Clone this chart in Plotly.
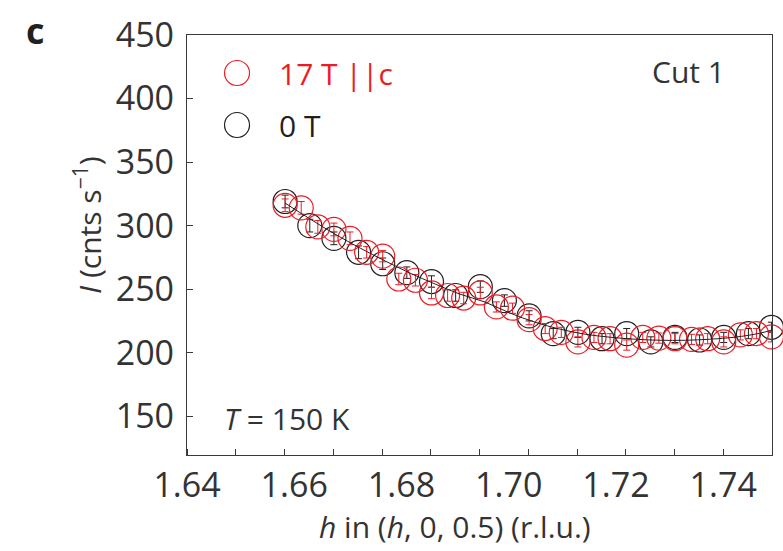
import plotly.graph_objects as go

# ---- data ----
h_0T = [1.6583, 1.6629, 1.6674, 1.6720, 1.6765, 1.6810, 1.6856, 1.6901, 1.6947, 1.6992,
        1.7038, 1.7083, 1.7129, 1.7174, 1.7220, 1.7265, 1.7310, 1.7356, 1.7401, 1.7447, 1.7490]
I_0T = [319, 300, 290, 279, 270, 263, 256, 245, 252, 241,
        229, 215, 216, 211, 215, 208.5, 212, 210, 212, 215, 220]
err_0T = [5, 5, 5, 5, 4.5, 4.5, 4.5, 4.5, 4.5, 4.5,
          4, 4, 4, 4, 4, 4, 4, 4, 4, 4, 4]

h_17T = [1.6583, 1.6613, 1.6644, 1.6674, 1.6704, 1.6735, 1.6765, 1.6795, 1.6826, 1.6856,
         1.6886, 1.6916, 1.6947, 1.6977, 1.7007, 1.7038, 1.7068, 1.7098, 1.7129, 1.7159,
         1.7189, 1.7220, 1.7250, 1.7280, 1.7310, 1.7341, 1.7371, 1.7401, 1.7432, 1.7462, 1.7490]
I_17T = [316, 314, 299, 297, 290, 279, 276, 258, 257, 247,
         245, 243, 247, 236, 235, 226, 219, 216, 208.5, 212,
         211, 206, 212, 211.5, 211, 210.5, 211, 208.5, 214, 215, 212.5]
err_17T = [5, 5, 5, 5, 5, 4.5, 4.5, 4.5, 4.5, 4.5,
           4.5, 4.5, 4.5, 4, 4, 4, 4, 4, 4, 4,
           4, 4, 4, 4, 4, 4, 4, 4, 4, 4, 4]

h_fit = [1.6583, 1.6630, 1.6676, 1.6723, 1.6770, 1.6816, 1.6863, 1.6909, 1.6956, 1.7003,
         1.7049, 1.7096, 1.7142, 1.7189, 1.7236, 1.7282, 1.7329, 1.7375, 1.7422, 1.7468, 1.7490]
I_fit = [317.7, 305.1, 293.3, 282.3, 272.1, 262.6, 254.0, 246.1, 239.8, 231.1,
         224.0, 218.5, 214.6, 212.2, 210.6, 209.8, 209.8, 210.6, 212.2, 215.3, 217.7]

x_ticks = [1.64, 1.66, 1.68, 1.70, 1.72, 1.74]
x_ticktext = ["1.64", "1.66", "1.68", "1.70", "1.72", "1.74"]
y_ticks = [150, 200, 250, 300, 350, 400, 450]

RED = "#ed1c24"
BLACK = "#231f20"
TXT = "#333333"
FONT = "Open Sans"

fig = go.Figure()

fig.add_trace(go.Scatter(
    x=h_0T, y=I_0T, mode="markers", name="0 T",
    marker=dict(symbol="circle-open", size=24, color=BLACK, line=dict(width=1.2)),
    error_y=dict(type="data", array=err_0T, color=BLACK, thickness=1, width=3.5),
    cliponaxis=False, showlegend=False))

fig.add_trace(go.Scatter(
    x=h_17T, y=I_17T, mode="markers", name="17 T ||c",
    marker=dict(symbol="circle-open", size=24, color=RED, line=dict(width=1.2)),
    error_y=dict(type="data", array=err_17T, color=RED, thickness=1, width=3.5),
    cliponaxis=False, showlegend=False))

fig.add_trace(go.Scatter(
    x=h_fit, y=I_fit, mode="lines", line=dict(color=BLACK, width=1, shape="spline"),
    cliponaxis=False, showlegend=False, hoverinfo="skip"))

axis_common = dict(showgrid=False, zeroline=False, showline=True, linecolor="#3a3a3a",
                   linewidth=1.3, mirror=True, automargin=False,
                   tickfont=dict(family=FONT, size=34, color=TXT))

fig.update_layout(
    width=783, height=551,
    margin=dict(l=187, r=11, t=35, b=96, autoexpand=False),
    paper_bgcolor="white", plot_bgcolor="white",
    xaxis=dict(range=[1.64, 1.7491], tickvals=x_ticks, ticktext=x_ticktext, ticks="",
               minor=dict(ticks="inside", tick0=1.64, dtick=0.009093, ticklen=6,
                          tickcolor="#3a3a3a", tickwidth=1, showgrid=False),
               **axis_common),
    yaxis=dict(range=[119.5, 450], tickvals=y_ticks, ticks="inside", ticklen=6,
               tickcolor="#3a3a3a", tickwidth=1, ticklabelstandoff=5,
               **axis_common),
    showlegend=False,
)

# axis titles
fig.add_annotation(x=0.458, y=-0.171, xref="paper", yref="paper", xanchor="center", yanchor="middle",
                   text="<i>h</i> in (<i>h</i>, 0, 0.5) (r.l.u.)", showarrow=False,
                   font=dict(family=FONT, size=30, color=TXT))
fig.add_annotation(x=-0.169, y=0.548, xref="paper", yref="paper", xanchor="center", yanchor="middle",
                   text="<i>I</i> (cnts s<sup>−1</sup>)", textangle=-90, showarrow=False,
                   font=dict(family=FONT, size=30, color=TXT))

# legend drawn as shapes + text
leg = [(0.9095, RED, "17 T ||c"), (0.7857, BLACK, "0 T")]
for yy, col, txt in leg:
    fig.add_shape(type="circle", xref="paper", yref="paper", xsizemode="pixel", ysizemode="pixel",
                  xanchor=0.0855, yanchor=yy, x0=-12.5, x1=12.5, y0=-12.5, y1=12.5,
                  line=dict(color=col, width=1.2))
    fig.add_annotation(x=0.1538, y=yy, xref="paper", yref="paper", xanchor="left", yanchor="middle",
                       text=txt, showarrow=False, font=dict(family=FONT, size=30, color=col))

fig.add_annotation(x=0.9231, y=0.912, xref="paper", yref="paper", xanchor="right", yanchor="middle",
                   text="Cut 1", showarrow=False, font=dict(family=FONT, size=30, color=TXT))
fig.add_annotation(x=0.0598, y=0.088, xref="paper", yref="paper", xanchor="left", yanchor="middle",
                   text="<i>T</i> = 150 K", showarrow=False, font=dict(family=FONT, size=30, color=TXT))
fig.add_annotation(x=-0.278, y=1.01, xref="paper", yref="paper", xanchor="left", yanchor="middle",
                   text="<b>c</b>", showarrow=False, font=dict(family=FONT, size=36, color=BLACK))

fig.write_html("out.html", config={"displayModeBar": False},
               post_script="document.body.style.margin='0';")
